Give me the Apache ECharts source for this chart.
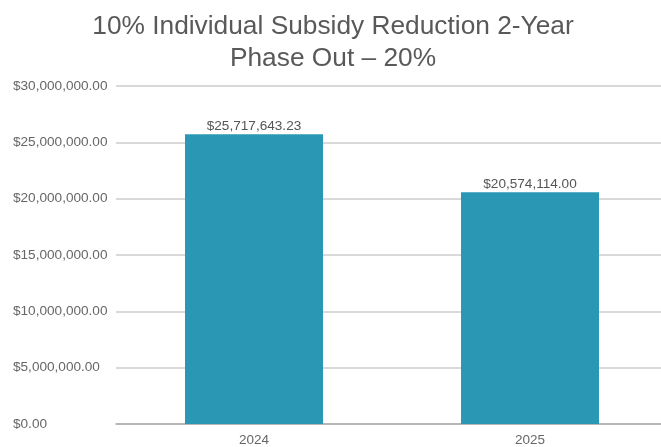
<!DOCTYPE html>
<html><head><meta charset="utf-8">
<script src="https://cdn.jsdelivr.net/npm/echarts@6/dist/echarts.min.js"></script>
<style>html,body{margin:0;padding:0;background:#fff}#c{width:661px;height:447px}</style>
</head><body><div id="c"></div>
<script>
const categories = ['2024', '2025'];
const values = [25717643.23, 20574114.00];
const yTicks = [0, 5000000, 10000000, 15000000, 20000000, 25000000, 30000000];

function money(v) {
  return '$' + Number(v).toLocaleString('en-US', {minimumFractionDigits: 2, maximumFractionDigits: 2});
}

const chart = echarts.init(document.getElementById('c'));
chart.setOption({
  animation: false,
  title: {
    text: '10% Individual Subsidy Reduction 2-Year\nPhase Out – 20%',
    left: 328, top: 6, textAlign: 'center',
    textStyle: {fontFamily: 'Liberation Sans, Arial', fontWeight: 'normal', fontSize: 26.3, color: '#595959', lineHeight: 32}
  },
  grid: {left: 116, width: 552, top: 86, bottom: 23, outerBoundsMode: 'none', containLabel: false},
  xAxis: {
    type: 'category', data: categories,
    axisLine: {lineStyle: {color: '#aaaaaa', width: 1.5}},
    axisTick: {show: false},
    axisLabel: {color: '#666666', fontSize: 13.5, fontFamily: 'Liberation Sans, Arial', margin: 9}
  },
  yAxis: {
    type: 'value', min: yTicks[0], max: yTicks[yTicks.length - 1], interval: 5000000,
    axisLine: {show: false}, axisTick: {show: false},
    splitLine: {lineStyle: {color: '#cccccc', width: 1.5}},
    axisLabel: {color: '#666666', fontSize: 13.6, fontFamily: 'Liberation Sans, Arial', align: 'left', margin: 103, formatter: money}
  },
  series: [{
    type: 'bar', data: values, barWidth: '50%',
    itemStyle: {color: '#2a98b5'},
    label: {show: true, position: 'top', distance: 1, color: '#555555', fontSize: 13.6, fontFamily: 'Liberation Sans, Arial', formatter: p => money(p.value)}
  }]
});
</script></body></html>
